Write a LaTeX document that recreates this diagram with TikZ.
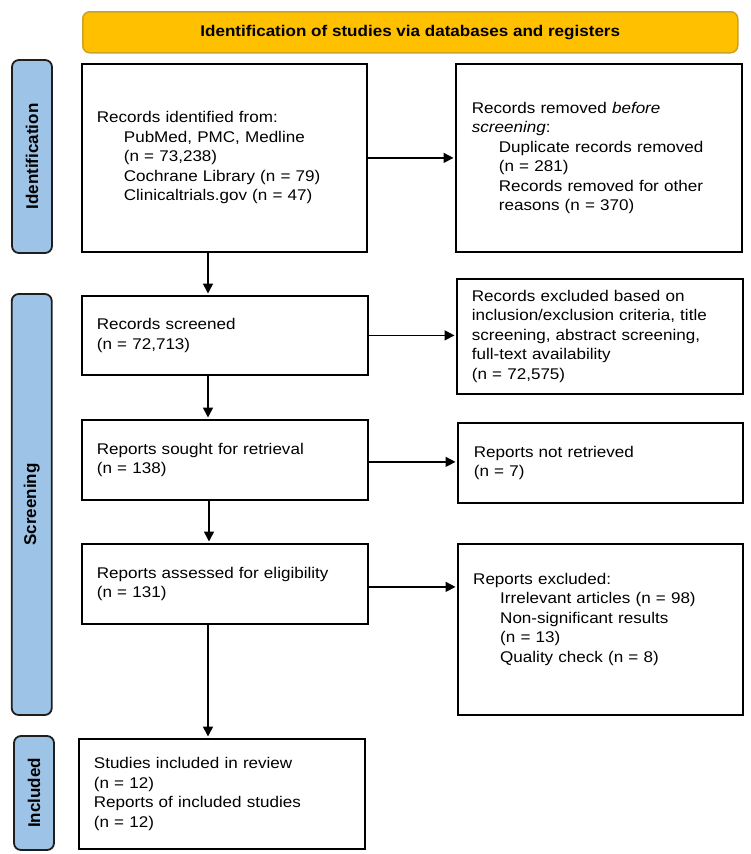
\documentclass[tikz,border=0pt]{standalone}
\usepackage{fontspec}
\setmainfont{Liberation Sans}[FakeStretch=1.1]
\newfontfamily\labfont{Liberation Sans}
\usetikzlibrary{arrows.meta,calc}
\definecolor{bannerfill}{HTML}{FFC000}
\definecolor{bannerdraw}{HTML}{C9A227}
\definecolor{labfill}{HTML}{9DC3E6}
\definecolor{labdraw}{HTML}{1E1E1E}
\newcommand{\ind}{\hspace*{27pt}}
\begin{document}
\begin{tikzpicture}[x=1pt,y=-1pt,
  box/.style={draw=black, line width=1.8pt, fill=white, inner xsep=15pt, inner ysep=0pt,
    align=left, anchor=north west, font=\fontsize{15.5}{19.5}\selectfont},
  txt/.style={inner sep=0pt, align=left, anchor=north west, font=\fontsize{15.5}{19.5}\selectfont},
  banner/.style={draw=bannerdraw, fill=bannerfill, line width=1.5pt, rounded corners=7pt,
    anchor=north west, inner sep=0pt, font=\fontsize{15.5}{19}\selectfont\bfseries},
  lab/.style={draw=labdraw, fill=labfill, line width=1.8pt, rounded corners=7pt, inner sep=0pt,
    rotate=90, font=\labfont\bfseries\fontsize{17}{20}\selectfont},
  arr/.style={line width=1.6pt, -{Triangle[length=10pt,width=10pt]}, shorten >=1.5pt}
]
\useasboundingbox (0,0) rectangle (750,854);

% banner
\node[banner, minimum width=655pt, minimum height=41pt] (ban) at (82,11)
  {Identification of studies via databases and registers};

% side labels
\node[lab, minimum width=193pt, minimum height=40pt] (lid) at (32,156.5) {Identification};
\node[lab, minimum width=421pt, minimum height=40pt] (lsc) at (31.75,504.5) {Screening};
\node[lab, minimum width=114pt, minimum height=40pt] (lin) at (34,793) {Included};

% left column
\node[box, text width=255pt, minimum width=285pt, minimum height=188pt] (b1) at (81,63)
  {Records identified from:\\
   \ind PubMed, PMC, Medline\\
   \ind (n = 73,238)\\
   \ind Cochrane Library (n = 79)\\
   \ind Clinicaltrials.gov (n = 47)};
\node[box, text width=256pt, minimum width=286pt, minimum height=79pt] (scr) at (81,295)
  {Records screened\\(n = 72,713)};
\node[box, text width=256pt, minimum width=286pt, minimum height=80pt] (sou) at (81,419)
  {Reports sought for retrieval\\(n = 138)};
\node[box, text width=256pt, minimum width=286pt, minimum height=80pt] (ass) at (81,543)
  {Reports assessed for eligibility\\(n = 131)};
\node[box, text width=256pt, minimum width=286pt, minimum height=110pt] (inc) at (78,738)
  {Studies included in review\\(n = 12)\\Reports of included studies\\(n = 12)};

% right column
\node[box, inner xsep=16pt, text width=254pt, minimum width=286pt, minimum height=188pt] (rr) at (455,63)
  {Records removed \textit{before}\\
   \textit{screening}:\\
   \ind Duplicate records removed\\
   \ind (n = 281)\\
   \ind Records removed for other\\
   \ind reasons (n = 370)};
\node[box, text width=256pt, minimum width=286pt, minimum height=115pt] (rex) at (456,278)
  {Records excluded based on\\
   inclusion/exclusion criteria, title\\
   screening, abstract screening,\\
   full-text availability\\
   (n = 72,575)};
\node[box, inner xsep=16pt, text width=253pt, minimum width=285pt, minimum height=80pt] (nr) at (457,422)
  {Reports not retrieved\\(n = 7)};
\node[box, minimum width=285pt, minimum height=171pt] (rex2) at (457,543) {};
\node[txt, text width=250pt] (rex2t) at ($(rex2.north west)+(16,30)$)
  {Reports excluded:\\
   \ind Irrelevant articles (n = 98)\\
   \ind Non-significant results\\
   \ind (n = 13)\\
   \ind Quality check (n = 8)};

% horizontal arrows
\draw[arr] (b1.east) -- (b1.east -| rr.west);
\draw[arr] (scr.east) -- (scr.east -| rex.west);
\draw[arr] ([yshift=-2pt]sou.east) -- ([yshift=-2pt]sou.east -| nr.west);
\draw[arr] ([yshift=-3pt]ass.east) -- ([yshift=-3pt]ass.east -| rex2.west);

% vertical arrows
\draw[arr] ([xshift=127pt]b1.south west) -- ([xshift=127pt]b1.south west |- scr.north);
\draw[arr] ([xshift=127pt]scr.south west) -- ([xshift=127pt]scr.south west |- sou.north);
\draw[arr] ([xshift=128pt]sou.south west) -- ([xshift=128pt]sou.south west |- ass.north);
\draw[arr] ([xshift=127pt]ass.south west) -- ([xshift=127pt]ass.south west |- inc.north);
\end{tikzpicture}
\end{document}
